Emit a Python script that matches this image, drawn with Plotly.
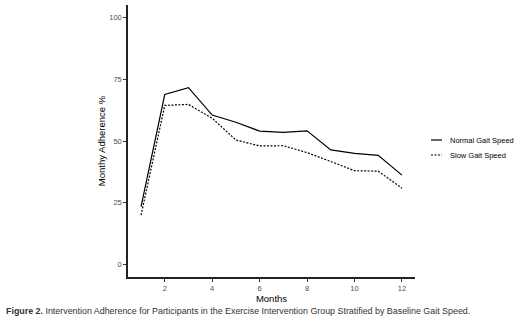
import plotly.graph_objects as go

months = [1, 2, 3, 4, 5, 6, 7, 8, 9, 10, 11, 12]
normal_gait = [23.5, 68.8, 71.6, 60.5, 57.6, 54.0, 53.5, 54.1, 46.4, 45.0, 44.2, 36.2]
slow_gait = [20.0, 64.4, 64.8, 59.2, 50.4, 48.0, 48.1, 45.3, 41.7, 38.0, 37.8, 30.9]
series_names = ["Normal Gait Speed", "Slow Gait Speed"]
y_ticks = [0, 25, 50, 75, 100]
x_ticks = [2, 4, 6, 8, 10, 12]

W, H = 521, 323
L, R, T, B = 128, 106, 5, 46
pw, ph = W - L - R, H - T - B

def px_x(p):
    return (p - L) / pw

def px_y(p):
    return (H - B - p) / ph

FONT = "Liberation Sans, Arial, sans-serif"

fig = go.Figure()
fig.add_trace(go.Scatter(x=months, y=normal_gait, mode="lines", name=series_names[0],
                         line=dict(color="black", width=1.2), showlegend=False))
fig.add_trace(go.Scatter(x=months, y=slow_gait, mode="lines", name=series_names[1],
                         line=dict(color="black", width=1.2, dash="2px,1.5px"), showlegend=False))

# custom legend keys
for i, (name, dash) in enumerate(zip(series_names, ["solid", "2px,1.5px"])):
    yp = px_y(140 + 15 * i)
    fig.add_shape(type="line", xref="paper", yref="paper",
                  x0=px_x(431), x1=px_x(442), y0=yp, y1=yp,
                  line=dict(color="black", width=1.2, dash=dash))
    fig.add_annotation(xref="paper", yref="paper", x=px_x(448), y=yp, text=name,
                       showarrow=False, xanchor="left", yanchor="middle",
                       font=dict(family=FONT, size=7.5, color="black"))

fig.add_annotation(xref="paper", yref="paper", x=px_x(4), y=px_y(311),
                   text="<b>Figure 2.</b> Intervention Adherence for Participants in the Exercise Intervention Group Stratified by Baseline Gait Speed.",
                   showarrow=False, xanchor="left", yanchor="middle",
                   font=dict(family=FONT, size=8.9, color="#333333"))

axis_common = dict(showline=True, linecolor="#222222", linewidth=1.5, ticks="outside",
                   ticklen=3, tickwidth=1, tickcolor="#333333", showgrid=False, zeroline=False,
                   tickfont=dict(family=FONT, size=7.5, color="#4d4d4d"))

fig.update_xaxes(range=[0.45, 12.55], tickvals=x_ticks,
                 title=dict(text="Months", font=dict(family=FONT, size=9.5, color="black"), standoff=0),
                 **axis_common)
fig.update_yaxes(range=[-5, 105], tickvals=y_ticks,
                 title=dict(text="Monthy Adherence %", font=dict(family=FONT, size=9.5, color="black"), standoff=2),
                 **axis_common)

fig.update_layout(width=W, height=H, margin=dict(l=L, r=R, t=T, b=B),
                  plot_bgcolor="white", paper_bgcolor="white", showlegend=False)

fig.write_html("out.html")
